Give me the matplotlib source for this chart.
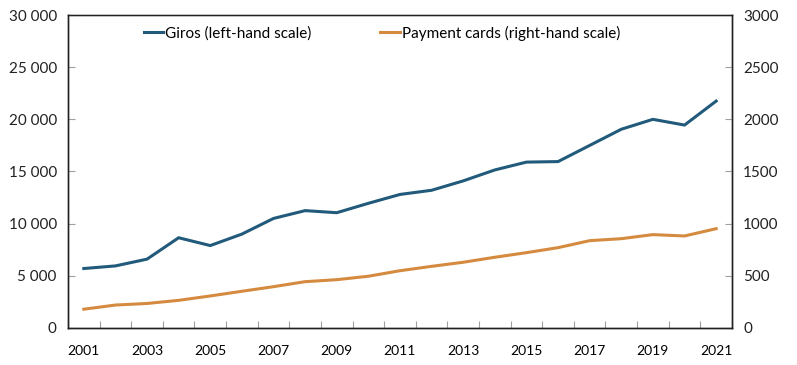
import numpy as np
import matplotlib
matplotlib.use("Agg")
from matplotlib import pyplot as plt
from matplotlib.ticker import FuncFormatter

plt.rcParams['font.family'] = ['Lato', 'DejaVu Sans']

# data
years = list(range(2001, 2022))
giros = [5700, 5950, 6600, 8650, 7900, 9000, 10500, 11250, 11050, 11950, 12800,
         13200, 14100, 15150, 15900, 15950, 17500, 19050, 20000, 19450, 21750]
cards = [180, 220, 235, 265, 307, 352, 396, 444, 463, 496, 549,
         591, 630, 678, 722, 770, 837, 856, 895, 882, 952]
left_ticks = [0, 5000, 10000, 15000, 20000, 25000, 30000]
right_ticks = [0, 500, 1000, 1500, 2000, 2500, 3000]

blue = '#215a7b'
orange = '#d58b3f'

fig = plt.figure(figsize=(7.97, 3.65), dpi=100)
ax = fig.add_axes([0.0853, 0.1014, 0.8331, 0.8575])
ax2 = ax.twinx()

x = np.arange(len(years))
l1, = ax.plot(x, giros, color=blue, lw=2.2, label='Giros (left-hand scale)')
l2, = ax2.plot(x, cards, color=orange, lw=2.2, label='Payment cards (right-hand scale)')

ax.set_xlim(-0.5, len(years) - 0.5)
ax.set_ylim(0, 30000)
ax2.set_ylim(0, 3000)

ax.set_yticks(left_ticks)
ax.yaxis.set_major_formatter(FuncFormatter(lambda v, p: f'{int(v):,}'.replace(',', ' ')))
ax2.set_yticks(right_ticks)
ax2.set_yticklabels([str(v) for v in right_ticks])

# category boundary ticks, labels on every other year
ax.set_xticks(np.arange(-0.5, len(years), 1))
ax.set_xticklabels([])
ax.set_xticks(x[::2], minor=True)
ax.set_xticklabels([str(y) for y in years[::2]], minor=True)
ax.tick_params(axis='x', which='minor', length=0, pad=12)
ax.tick_params(axis='x', which='major', direction='in', length=5, color='#a0a0a0')
ax.tick_params(axis='y', direction='in', length=5, color='#a0a0a0', pad=8)
ax2.tick_params(axis='y', direction='in', length=5, color='#a0a0a0', pad=8)

for a in (ax, ax2):
    a.tick_params(labelsize=11, labelcolor='#222222')
    for s in a.spines.values():
        s.set_color('#222222')
        s.set_linewidth(1.0)
ax.spines['top'].set_color('#888888')

fig.legend(handles=[l1, l2], loc='center', bbox_to_anchor=(0.479, 0.909),
           ncol=2, frameon=False, fontsize=11, handlelength=1.3,
           handletextpad=0.1, columnspacing=4.5)

fig.savefig('out.png', dpi=100)
